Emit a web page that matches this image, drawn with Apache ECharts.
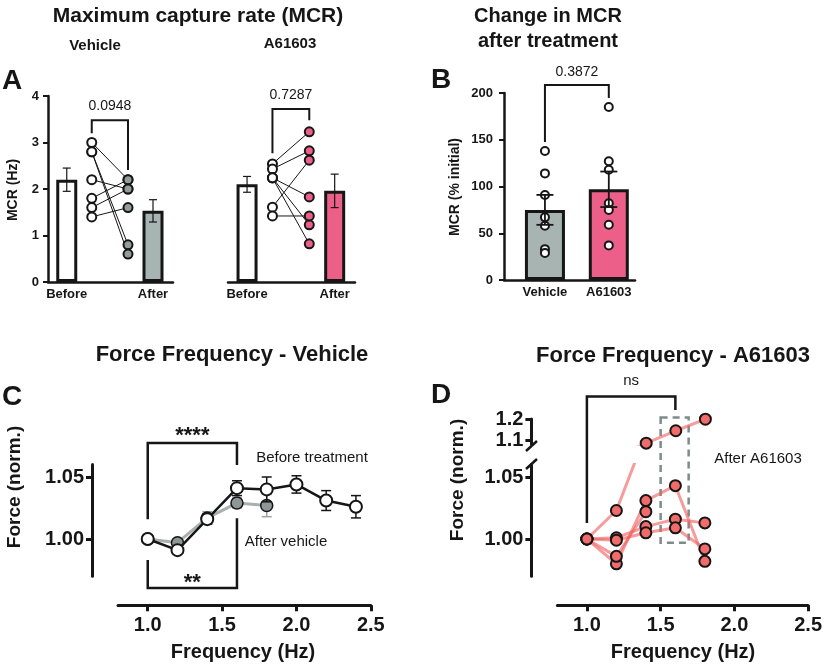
<!DOCTYPE html>
<html>
<head>
<meta charset="utf-8">
<title>MCR and force frequency</title>
<script src="https://cdn.jsdelivr.net/npm/echarts@6/dist/echarts.min.js"></script>
<style>
  html, body { margin: 0; padding: 0; background: #fff; }
  #chart { width: 825px; height: 668px; }
</style>
</head>
<body>
<div id="chart"></div>
<script type="text/javascript">
// ---- data ----
// A: maximum capture rate (Hz), paired before/after
var VEH_BEFORE = [3.0, 2.8, 2.8, 2.2, 1.8, 1.6, 1.4];
var VEH_AFTER  = [2.2, 0.8, 0.6, 2.0, 2.2, 2.0, 1.6];
var VEH_MEAN = [2.2, 1.53];
var VEH_SEM  = [0.25, 0.24];
var A6_BEFORE = [2.54, 2.43, 2.24, 2.24, 2.24, 1.61, 1.42];
var A6_AFTER  = [3.23, 2.82, 1.83, 1.23, 0.82, 2.62, 1.42];
var A6_MEAN = [2.1, 1.96];
var A6_SEM  = [0.17, 0.36];
var A_CATS = ['Before', 'After'];

// B: change in MCR (% initial)
var B_CATS = ['Vehicle', 'A61603'];
var B_VEH = [138, 114, 91, 67, 58, 33, 29];
var B_A6  = [185, 127, 118, 82, 75, 59, 37];
var B_MEAN = [75, 97];
var B_SEM  = [16, 19];

// C: force frequency, vehicle
var FREQ = [1.0, 1.2, 1.4, 1.6, 1.8, 2.0, 2.2, 2.4];
var C_BEFORE     = [1.000, 0.991, 1.016, 1.041, 1.040, 1.044, 1.031, 1.026];
var C_BEFORE_SEM = [0, 0.002, 0.004, 0.006, 0.010, 0.007, 0.008, 0.009];
var C_AFTER      = [1.000, 0.997, 1.017, 1.029, 1.027];
var C_AFTER_SEM  = [0, 0.002, 0.005, 0.004, 0.009];

// D: force frequency, A61603 (individual preparations)
var D_FREQ = [1.0, 1.2, 1.4, 1.6, 1.8];
var D_PREPS = [
  [1.000, 1.023, 1.085, 1.144, 1.199],
  [1.000, 0.980, 1.031, 1.043, 0.982],
  [1.000, 0.986, 1.022, null, null],
  [1.000, 1.001, 1.010, 1.016, 1.013],
  [1.000, 0.999, 1.005, 1.009, 0.992]
];

var FREQ_TICKS = [1.0, 1.5, 2.0, 2.5];

// ---- styling ----
var INK = '#161616';
var GREY = '#a7b4b2';
var GREY_DOT = '#939d9b';
var PINK = '#ec5f88';
var FONT = '"Liberation Sans", Arial, sans-serif';

// slot positions on the A and B x axes
var A_BAR = [0.75, 4.2];
var A_PTS = [1.75, 3.2];
var B_POS = [1.25, 3.2];

function errorBars(capW, color, lw) {
  return function (params, api) {
    var x = api.value(0);
    var top = api.coord([x, api.value(2)]);
    var bot = api.coord([x, api.value(1)]);
    function seg(x1, y1, x2, y2) {
      return {type: 'line', shape: {x1: x1, y1: y1, x2: x2, y2: y2}, style: {stroke: color, lineWidth: lw}};
    }
    return {type: 'group', children: [
      seg(top[0], top[1], bot[0], bot[1]),
      seg(top[0] - capW / 2, top[1], top[0] + capW / 2, top[1]),
      seg(bot[0] - capW / 2, bot[1], bot[0] + capW / 2, bot[1])
    ]};
  };
}
function errData(xs, means, sems) {
  var out = [];
  for (var i = 0; i < means.length; i++) {
    if (sems[i] > 0) out.push([xs[i], means[i] - sems[i], means[i] + sems[i]]);
  }
  return out;
}
// bracket: [x1, x2, yBar, yLeftEnd, yRightEnd]
function bracket(label, font, dy, lw) {
  return function (params, api) {
    var x1 = api.value(0), x2 = api.value(1), yb = api.value(2);
    var a = api.coord([x1, api.value(3)]);
    var b = api.coord([x1, yb]);
    var c = api.coord([x2, yb]);
    var d = api.coord([x2, api.value(4)]);
    return {type: 'group', children: [
      {type: 'polyline', shape: {points: [a, b, c, d]}, style: {stroke: INK, lineWidth: lw, fill: null}},
      {type: 'text', x: (b[0] + c[0]) / 2, y: b[1] + dy,
       style: {text: label, font: font, fill: INK, textAlign: 'center', textVerticalAlign: 'middle'}}
    ]};
  };
}

function valAxis(grid, min, max, extra) {
  var ax = {
    gridIndex: grid, type: 'value', min: min, max: max,
    splitLine: {show: false},
    axisLine: {onZero: false, lineStyle: {color: INK, width: 2.5}},
    axisTick: {show: false},
    axisLabel: {color: INK, fontFamily: FONT, fontWeight: 'bold'}
  };
  for (var k in extra) ax[k] = extra[k];
  return ax;
}

var series = [];

// ---- Panel A ----
function panelA(ax, before, after, mean, sem, fill) {
  series.push({
    type: 'bar', xAxisIndex: ax, yAxisIndex: ax, barWidth: 21, z: 2,
    itemStyle: {borderColor: INK, borderWidth: 3},
    data: [
      {value: [A_BAR[0], mean[0]], itemStyle: {color: '#fff'}},
      {value: [A_BAR[1], mean[1]], itemStyle: {color: fill}}
    ]
  });
  series.push({
    type: 'custom', xAxisIndex: ax, yAxisIndex: ax, z: 3,
    renderItem: errorBars(8, INK, 1.2), encode: {x: 0, y: [1, 2]},
    data: errData(A_BAR, mean, sem)
  });
  for (var i = 0; i < before.length; i++) {
    series.push({
      type: 'line', xAxisIndex: ax, yAxisIndex: ax, symbol: 'none', silent: true, z: 3,
      lineStyle: {color: INK, width: 1},
      data: [[A_PTS[0], before[i]], [A_PTS[1], after[i]]]
    });
  }
  series.push({
    type: 'scatter', xAxisIndex: ax, yAxisIndex: ax, symbolSize: 9, z: 4,
    itemStyle: {color: '#fff', borderColor: INK, borderWidth: 2, opacity: 1},
    data: before.map(function (v) { return [A_PTS[0], v]; })
  });
  series.push({
    type: 'scatter', xAxisIndex: ax, yAxisIndex: ax, symbolSize: 9, z: 4,
    itemStyle: {color: fill === GREY ? GREY_DOT : fill, borderColor: INK, borderWidth: 2, opacity: 1},
    data: after.map(function (v) { return [A_PTS[1], v]; })
  });
}
panelA(0, VEH_BEFORE, VEH_AFTER, VEH_MEAN, VEH_SEM, GREY);
panelA(1, A6_BEFORE, A6_AFTER, A6_MEAN, A6_SEM, PINK);
series.push({
  type: 'custom', xAxisIndex: 0, yAxisIndex: 0, z: 5,
  renderItem: bracket('0.0948', '14px ' + FONT, -14, 2), data: [[A_PTS[0], A_PTS[1], 3.48, 3.20, 2.41]]
});
series.push({
  type: 'custom', xAxisIndex: 1, yAxisIndex: 1, z: 5,
  renderItem: bracket('0.7287', '14px ' + FONT, -14, 2), data: [[A_PTS[0], A_PTS[1], 3.72, 2.77, 3.48]]
});

// ---- Panel B ----
series.push({
  type: 'bar', xAxisIndex: 2, yAxisIndex: 2, barWidth: 40, z: 2,
  itemStyle: {borderColor: INK, borderWidth: 3},
  data: [
    {value: [B_POS[0], B_MEAN[0]], itemStyle: {color: GREY}},
    {value: [B_POS[1], B_MEAN[1]], itemStyle: {color: PINK}}
  ]
});
series.push({
  type: 'scatter', xAxisIndex: 2, yAxisIndex: 2, symbolSize: 8, z: 3,
  itemStyle: {color: '#fff', borderColor: INK, borderWidth: 2, opacity: 1},
  data: B_VEH.map(function (v) { return [B_POS[0], v]; }).concat(B_A6.map(function (v) { return [B_POS[1], v]; }))
});
series.push({
  type: 'custom', xAxisIndex: 2, yAxisIndex: 2, z: 4,
  renderItem: errorBars(17, INK, 1.8), encode: {x: 0, y: [1, 2]},
  data: errData(B_POS, B_MEAN, B_SEM)
});
series.push({
  type: 'custom', xAxisIndex: 2, yAxisIndex: 2, z: 5,
  renderItem: bracket('0.3872', '14px ' + FONT, -13, 2), data: [[B_POS[0], B_POS[1], 208.6, 147.6, 194.6]]
});

// ---- Panel C ----
var cBefore = FREQ.map(function (f, i) { return [f, C_BEFORE[i]]; });
var cAfter = C_AFTER.map(function (v, i) { return [FREQ[i], v]; });
series.push({
  type: 'custom', xAxisIndex: 3, yAxisIndex: 3, z: 2,
  renderItem: errorBars(10, '#9aa3a1', 1.5), encode: {x: 0, y: [1, 2]},
  data: errData(FREQ, C_AFTER, C_AFTER_SEM)
});
series.push({
  type: 'line', xAxisIndex: 3, yAxisIndex: 3, z: 3,
  symbol: 'circle', symbolSize: 12,
  lineStyle: {color: '#a9b1af', width: 3},
  itemStyle: {color: '#8e9795', borderColor: INK, borderWidth: 1.5},
  data: cAfter
});
series.push({
  type: 'custom', xAxisIndex: 3, yAxisIndex: 3, z: 4,
  renderItem: errorBars(10, INK, 1.5), encode: {x: 0, y: [1, 2]},
  data: errData(FREQ, C_BEFORE, C_BEFORE_SEM)
});
series.push({
  type: 'line', xAxisIndex: 3, yAxisIndex: 3, z: 5,
  symbol: 'circle', symbolSize: 12,
  lineStyle: {color: INK, width: 2.5},
  itemStyle: {color: '#fff', borderColor: INK, borderWidth: 2},
  data: cBefore
});
series.push({
  type: 'custom', xAxisIndex: 3, yAxisIndex: 3, z: 6,
  renderItem: bracket('****', 'bold 22px ' + FONT, -7, 2.5), data: [[1.0, 1.6, 1.0774, 1.016, 1.0597]]
});
series.push({
  type: 'custom', xAxisIndex: 3, yAxisIndex: 3, z: 6,
  renderItem: bracket('**', 'bold 22px ' + FONT, -5, 2.5), data: [[1.0, 1.6, 0.9605, 0.983, 1.0167]]
});

// ---- Panel D (broken y axis: lower grid 4, upper grid 5) ----
D_PREPS.forEach(function (prep) {
  var pts = [];
  prep.forEach(function (v, j) { if (v !== null) pts.push([D_FREQ[j], v]); });
  [4, 5].forEach(function (ax) {
    series.push({
      type: 'line', xAxisIndex: ax, yAxisIndex: ax, z: 3, clip: true,
      symbol: 'circle', symbolSize: 11,
      lineStyle: {color: 'rgba(240,95,95,0.62)', width: 3},
      itemStyle: {color: '#f26b6b', borderColor: INK, borderWidth: 2},
      data: pts
    });
  });
});
series.push({
  type: 'custom', xAxisIndex: 4, yAxisIndex: 4, z: 2,
  renderItem: function (params, api) {
    var p1 = api.coord([api.value(0), api.value(3)]);
    var p2 = api.coord([api.value(1), api.value(2)]);
    return {type: 'rect', shape: {x: p1[0], y: p1[1], width: p2[0] - p1[0], height: p2[1] - p1[1]},
      style: {fill: null, stroke: '#7f8b8a', lineWidth: 2.5, lineDash: [7, 5]}};
  },
  data: [[1.5, 1.69, 0.997, 1.098]]
});
series.push({
  type: 'custom', xAxisIndex: 4, yAxisIndex: 4, z: 6,
  renderItem: bracket('ns', '15px ' + FONT, -16, 2.5), data: [[1.0, 1.6, 1.115, 1.013, 1.104]]
});

// ---- axes ----
var freqX = function (grid) {
  return valAxis(grid, 0.8, 2.5, {
    offset: 29,
    axisLine: {onZero: false, lineStyle: {color: INK, width: 3}},
    axisTick: {show: true, customValues: FREQ_TICKS, length: 6, lineStyle: {color: INK, width: 3}},
    axisLabel: {customValues: FREQ_TICKS, color: INK, fontFamily: FONT, fontWeight: 'bold', fontSize: 20, margin: 10,
      formatter: function (v) { return v.toFixed(1); }}
  });
};
var forceY = function (grid, min, max, ticks, digits) {
  return valAxis(grid, min, max, {
    offset: 26,
    axisLine: {onZero: false, lineStyle: {color: INK, width: 3}},
    axisTick: {show: true, customValues: ticks, length: 6, lineStyle: {color: INK, width: 3}},
    axisLabel: {customValues: ticks, color: INK, fontFamily: FONT, fontWeight: 'bold', fontSize: 20, margin: 8,
      formatter: function (v) { return v.toFixed(digits); }}
  });
};
var catX = function (grid, max, pos, cats) {
  return valAxis(grid, 0, max, {
    axisLabel: {customValues: pos, color: INK, fontFamily: FONT, fontWeight: 'bold', fontSize: 13, margin: 6,
      formatter: function (v) { return cats[pos.indexOf(v)]; }}
  });
};

var option = {
  animation: false,
  backgroundColor: '#fff',
  textStyle: {fontFamily: FONT},
  grid: [
    {left: 48, top: 96, width: 125, height: 186},
    {left: 228, top: 96, width: 127, height: 186},
    {left: 504, top: 93, width: 131, height: 187},
    {left: 118, top: 464.6, width: 252.8, height: 111.6},
    {left: 557.4, top: 464.6, width: 251.6, height: 111.6},
    {left: 557.4, top: 419, width: 251.6, height: 25.2}
  ],
  xAxis: [
    catX(0, 5, A_BAR, A_CATS),
    catX(1, 5, A_BAR, A_CATS),
    catX(2, 4, B_POS, B_CATS),
    freqX(3),
    freqX(4),
    valAxis(5, 0.8, 2.5, {show: false})
  ],
  yAxis: [
    valAxis(0, 0, 4, {interval: 1,
      axisTick: {show: true, length: 5, lineStyle: {color: INK, width: 2}},
      axisLabel: {color: INK, fontFamily: FONT, fontWeight: 'bold', fontSize: 13, margin: 9}}),
    valAxis(1, 0, 4, {show: false}),
    valAxis(2, 0, 200, {interval: 50,
      axisTick: {show: true, length: 5, lineStyle: {color: INK, width: 2}},
      axisLabel: {color: INK, fontFamily: FONT, fontWeight: 'bold', fontSize: 13, margin: 11}}),
    forceY(3, 0.97, 1.06, [1.00, 1.05], 2),
    forceY(4, 0.97, 1.06, [1.00, 1.05], 2),
    forceY(5, 1.08, 1.2, [1.1, 1.2], 1)
  ],
  series: series,
  graphic: [
    txt('Maximum capture rate (MCR)', 198, 16, 'bold 21px'),
    txt('Vehicle', 95, 46, 'bold 15px'),
    txt('A61603', 290, 44, 'bold 15px'),
    txt('A', 2, 81, 'bold 28px', 'left'),
    txt('MCR (Hz)', 13, 190, 'bold 14px', 'center', Math.PI / 2),
    txt('Change in MCR', 548, 16, 'bold 20px'),
    txt('after treatment', 548, 41, 'bold 20px'),
    txt('B', 431, 80, 'bold 28px', 'left'),
    txt('MCR (% initial)', 455, 187, 'bold 14px', 'center', Math.PI / 2),
    txt('Force Frequency - Vehicle', 232, 355, 'bold 22px'),
    txt('C', 2, 397, 'bold 28px', 'left'),
    txt('Force (norm.)', 15, 487, 'bold 19px', 'center', Math.PI / 2),
    txt('Frequency (Hz)', 243, 652, 'bold 20px'),
    txt('Before treatment', 312, 458, '15px'),
    txt('After vehicle', 286, 542, '15px'),
    txt('Force Frequency - A61603', 673, 356, 'bold 22px'),
    txt('D', 431, 395, 'bold 28px', 'left'),
    txt('Force (norm.)', 458, 480, 'bold 19px', 'center', Math.PI / 2),
    txt('Frequency (Hz)', 683, 652, 'bold 20px'),
    txt('After A61603', 758, 459, '15px'),
    // axis break marks on panel D
    {type: 'line', shape: {x1: 526, y1: 451, x2: 537, y2: 441}, style: {stroke: INK, lineWidth: 2.5}},
    {type: 'line', shape: {x1: 526, y1: 469, x2: 537, y2: 459}, style: {stroke: INK, lineWidth: 2.5}}
  ]
};

function txt(s, x, y, font, align, rot) {
  return {
    type: 'text', x: x, y: y, rotation: rot || 0,
    style: {text: s, font: font + ' ' + FONT, fill: INK,
      textAlign: align || 'center', textVerticalAlign: 'middle'}
  };
}

var chart = echarts.init(document.getElementById('chart'));
chart.setOption(option);
</script>
</body>
</html>
